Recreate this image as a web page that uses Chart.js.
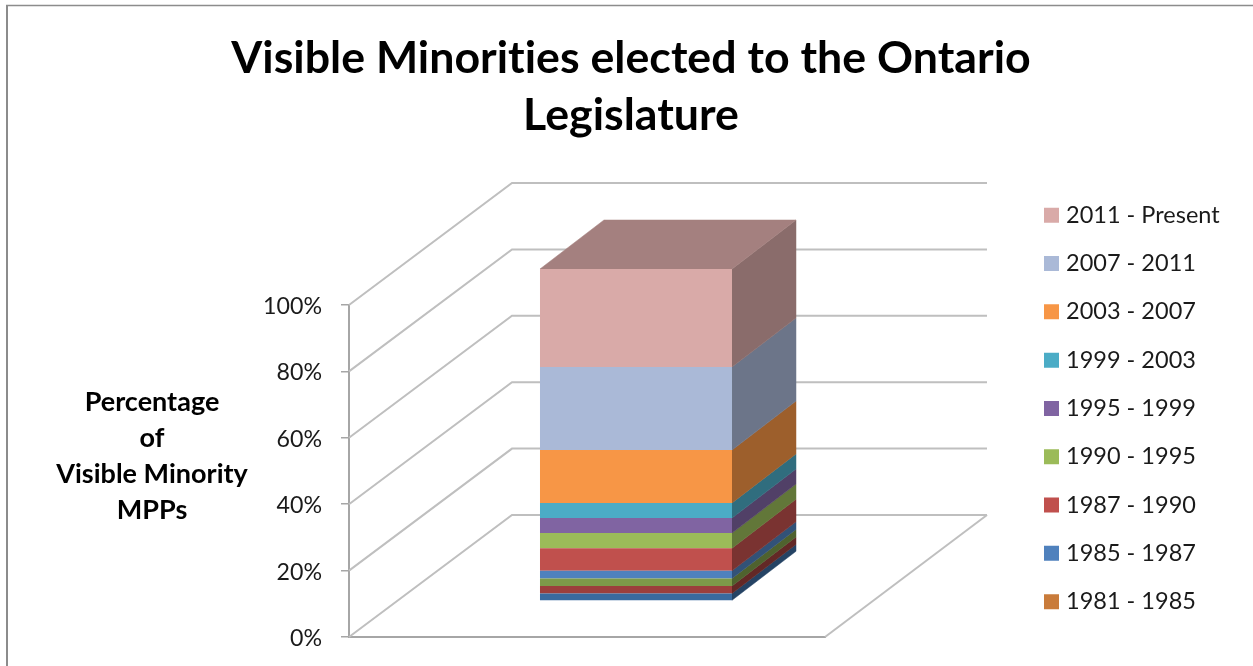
<!DOCTYPE html>
<html lang="en">
<head>
<meta charset="utf-8">
<title>Visible Minorities elected to the Ontario Legislature</title>
<script src="https://cdn.jsdelivr.net/npm/chart.js@4/dist/chart.umd.min.js"></script>
<style>
  html, body { margin: 0; padding: 0; background: #fff; }
  canvas { display: block; }
</style>
</head>
<body>
<canvas id="chart" width="1253" height="666"></canvas>
<script>
const TITLE_LINES = ['Visible Minorities elected to the Ontario', 'Legislature'];
const AXIS_TITLE_LINES = ['Percentage', 'of', 'Visible Minority', 'MPPs'];
const CATEGORIES = ['MPPs'];
const Y_TICKS_STEP = 20;

// Stack order runs bottom to top.
const TERMS = [
  '1971 - 1975', '1975 - 1977', '1977 - 1981', '1981 - 1985', '1985 - 1987', '1987 - 1990',
  '1990 - 1995', '1995 - 1999', '1999 - 2003', '2003 - 2007', '2007 - 2011', '2011 - Present'
];
const SHARES = [2.27, 2.27, 2.27, 0, 2.27, 6.82, 4.55, 4.55, 4.55, 15.91, 25, 29.54];
const COLORS = [
  '#3A6A9E', '#9C3F3C', '#7D9A49', '#C97B3A', '#4F81BD', '#C0504D',
  '#9BBB59', '#8064A2', '#4BACC6', '#F79646', '#AAB9D7', '#D9AAA8'
];
// The three oldest terms stay out of the legend.
const LEGEND_HIDDEN = ['1971 - 1975', '1975 - 1977', '1977 - 1981'];

const FONT = 'Lato, Carlito, Calibri, sans-serif';
const GRID_COLOR = '#BFBFBF';
const AXIS_COLOR = '#A6A6A6';

// Oblique projection used for the floor, the walls and the column.
const WALL = { dx: 163, dy: -122, right: 987 };
const COLUMN_NEAR = { dx: 49, dy: -36 };
const COLUMN_DEPTH = { dx: 64, dy: -49 };
const SIDE_SHADE = 0.635;
const TOP_SHADE = 0.755;

function shade(hex, f) {
  const n = parseInt(hex.slice(1), 16);
  const c = [n >> 16, (n >> 8) & 255, n & 255].map(v => Math.round(v * f));
  return `rgb(${c[0]},${c[1]},${c[2]})`;
}

function polygon(ctx, pts, fill) {
  ctx.beginPath();
  pts.forEach((p, i) => (i ? ctx.lineTo(p[0], p[1]) : ctx.moveTo(p[0], p[1])));
  ctx.closePath();
  ctx.fillStyle = fill;
  ctx.strokeStyle = fill;
  ctx.lineWidth = 0.5;
  ctx.fill();
  ctx.stroke();
}

const scene3d = {
  id: 'scene3d',
  afterLayout(chart) {
    // Legend sits in its own column beside the projected walls.
    const legend = chart.legend;
    const pad = chart.options.plugins.legend.labels.padding;
    legend.update(300, 640, { left: 0, top: 0, right: 0, bottom: 0 });
    legend.left = 1048.75 - pad;
    legend.top = 203.5 - pad;
    legend.right = legend.left + 300;
    legend.bottom = legend.top + 640;
    // Title spans the whole framed width.
    chart.titleBlock.left = 10;
    chart.titleBlock.right = 1252;
  },
  beforeDraw(chart) {
    const { ctx } = chart;
    // Plain letters throughout: no "ti" style ligatures.
    ctx.letterSpacing = '0.01px';
    ctx.save();
    ctx.strokeStyle = '#8C8C8C';
    ctx.lineWidth = 2;
    ctx.beginPath();
    ctx.moveTo(7, 666);
    ctx.lineTo(7, 5.5);
    ctx.stroke();
    ctx.beginPath();
    ctx.moveTo(6, 5.5);
    ctx.lineTo(1253, 5.5);
    ctx.lineWidth = 1.4;
    ctx.stroke();
    ctx.restore();
  },
  beforeDatasetsDraw(chart) {
    const { ctx, chartArea } = chart;
    const y = chart.scales.y;
    const x0 = chartArea.left;

    // Side wall and back wall rules for every tick.
    ctx.save();
    ctx.strokeStyle = GRID_COLOR;
    ctx.lineWidth = 2;
    y.ticks.forEach(t => {
      const py = y.getPixelForValue(t.value);
      ctx.beginPath();
      ctx.moveTo(x0, py);
      ctx.lineTo(x0 + WALL.dx, py + WALL.dy);
      ctx.lineTo(WALL.right, py + WALL.dy);
      ctx.stroke();
    });
    // Right edge of the floor.
    const fy = y.getPixelForValue(0);
    ctx.beginPath();
    ctx.moveTo(WALL.right, fy + WALL.dy);
    ctx.lineTo(chartArea.right, fy);
    ctx.stroke();
    ctx.restore();

    // Side and top faces of the column, taken from the bar elements.
    const d = COLUMN_DEPTH;
    ctx.save();
    ctx.translate(COLUMN_NEAR.dx, COLUMN_NEAR.dy);
    let topEdge = null;
    chart.data.datasets.forEach((ds, i) => {
      const bar = chart.getDatasetMeta(i).data[0];
      if (!bar || !ds.data[0]) return;
      const { x, y: top, base, width } = bar.getProps(['x', 'y', 'base', 'width'], false);
      const r = x + width / 2;
      polygon(ctx, [[r, base], [r + d.dx, base + d.dy], [r + d.dx, top + d.dy], [r, top]],
        shade(COLORS[i], SIDE_SHADE));
      topEdge = { l: x - width / 2, r, top, color: COLORS[i] };
    });
    if (topEdge) {
      const { l, r, top, color } = topEdge;
      polygon(ctx, [[l, top], [r, top], [r + d.dx, top + d.dy], [l + d.dx, top + d.dy]],
        shade(color, TOP_SHADE));
    }
    ctx.restore();

    // Front faces are the chart's own bars, pushed back onto the floor.
    ctx.save();
    ctx.translate(COLUMN_NEAR.dx, COLUMN_NEAR.dy);
  },
  afterDatasetsDraw(chart) {
    chart.ctx.restore();
  },
  afterDraw(chart) {
    const { ctx } = chart;
    ctx.save();
    ctx.font = `bold 27px ${FONT}`;
    ctx.fillStyle = '#000';
    ctx.textAlign = 'center';
    ctx.textBaseline = 'middle';
    AXIS_TITLE_LINES.forEach((line, i) => ctx.fillText(line, 152, 402.5 + i * 36));
    ctx.restore();
  }
};

new Chart(document.getElementById('chart'), {
  type: 'bar',
  plugins: [scene3d],
  data: {
    labels: CATEGORIES,
    datasets: TERMS.map((term, i) => ({
      label: term,
      data: [SHARES[i]],
      backgroundColor: COLORS[i],
      borderWidth: 0,
      barPercentage: 0.4034,
      categoryPercentage: 1,
      clip: false
    }))
  },
  options: {
    responsive: false,
    animation: false,
    layout: { padding: { left: 0, right: 428, top: 0, bottom: 29 } },
    scales: {
      x: {
        stacked: true,
        afterFit(scale) { scale.height = 0; scale.paddingBottom = 0; },
        grid: { display: false },
        border: { display: true, color: AXIS_COLOR, width: 2 },
        ticks: { display: false }
      },
      y: {
        stacked: true,
        min: 0,
        max: 100,
        afterFit(scale) {
          scale.width = 349;
          // The floor position is fixed; tick labels may overhang it.
          scale.paddingTop = 0;
          scale.paddingBottom = 0;
        },
        grid: { drawOnChartArea: false, tickLength: 8, color: AXIS_COLOR, lineWidth: 1.5 },
        border: { display: true, color: AXIS_COLOR, width: 2 },
        ticks: {
          stepSize: Y_TICKS_STEP,
          padding: 19,
          labelOffset: 1.5,
          color: '#1A1A1A',
          font: { family: FONT, size: 23.2 },
          callback: v => `${v}%`
        }
      }
    },
    plugins: {
      tooltip: { enabled: false },
      title: {
        display: true,
        text: TITLE_LINES,
        color: '#000',
        font: { family: FONT, size: 44.7, weight: 'bold', lineHeight: 1.275 },
        padding: { top: 30, bottom: 161 }
      },
      legend: {
        position: 'chartArea',
        align: 'start',
        reverse: true,
        labels: {
          color: '#1A1A1A',
          font: { family: FONT, size: 23.5 },
          boxWidth: 5.5,
          boxHeight: 5.5,
          padding: 24.8,
          generateLabels(chart) {
            return Chart.defaults.plugins.legend.labels.generateLabels(chart)
              .filter(item => !LEGEND_HIDDEN.includes(item.text))
              .map(item => ({ ...item, strokeStyle: item.fillStyle, lineWidth: 9.5 }));
          }
        }
      }
    }
  }
});
</script>
</body>
</html>
